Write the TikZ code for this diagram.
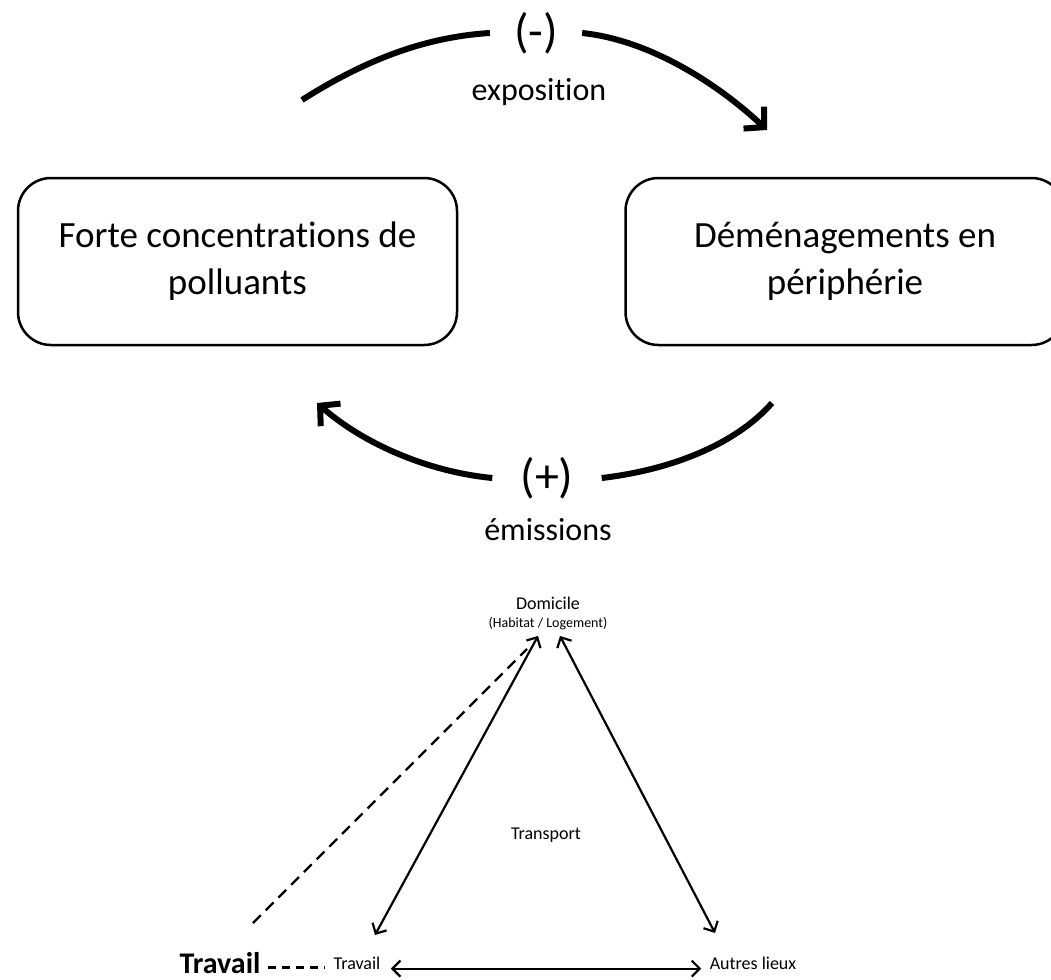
\documentclass[tikz,border=0pt]{standalone}
\usepackage{fontspec}
\setmainfont{Carlito}[Ligatures=NoCommon]
\usetikzlibrary{arrows.meta}

\begin{document}
\begin{tikzpicture}[x=1pt,y=-1pt,
  box node/.style={draw,line width=2.5pt,rounded corners=33pt,minimum width=439pt,
    minimum height=167pt,align=center,font=\fontsize{37}{47}\selectfont},
  sign node/.style={inner xsep=24pt,font=\fontsize{48}{48}\selectfont},
  word node/.style={font=\fontsize{32}{32}\selectfont},
  place node/.style={font=\fontsize{18}{18}\selectfont},
  sub node/.style={font=\fontsize{14}{14}\selectfont},
  work node/.style={font=\fontsize{30}{30}\selectfont\bfseries},
  loop line/.style={line width=6pt},
  loop arrow/.style={line width=6pt,-{Straight Barb[length=14pt,width=30pt]}},
  trip/.style={line width=2.2pt,{Straight Barb[length=8pt,width=16pt]}-{Straight Barb[length=8pt,width=16pt]}},
  link/.style={line width=2.4pt,dash pattern=on 11pt off 7pt}]
  \useasboundingbox[fill=white] (0,0) rectangle (1051,979);

  \node[box node] (pollution) at (237.5,261.5) {Forte concentrations de\\polluants};
  \node[box node] (demenagement) at (845,261.5) {Déménagements en\\périphérie};

  \node[sign node] (moins) at (536,33) {(-)};
  \node[word node] (exposition) at (539,92) {exposition};
  \node[sign node,inner xsep=28pt] (plus) at (547,478) {(+)};
  \node[word node] (emissions) at (548,530) {émissions};

  \coordinate (expo start) at (302,100);
  \coordinate (expo end) at (767,130);
  \coordinate (emis start) at (772,403);
  \coordinate (emis end) at (317,403);
  \draw[loop line] (expo start) .. controls (365,60) and (425,37) .. (moins.west);
  \draw[loop arrow] (moins.east) .. controls (650,40) and (718,84) .. (expo end);
  \draw[loop line] (emis start) .. controls (735,445) and (670,470) .. (plus.east);
  \draw[loop arrow] (plus.west) .. controls (430,472) and (365,445) .. (emis end);

  \node[place node,anchor=base] (domicile) at (548,609) {Domicile};
  \node[sub node,anchor=base] (habitat) at (548,627) {(Habitat / Logement)};
  \node[place node,anchor=base] (transport) at (546,839) {Transport};
  \node[place node,anchor=base] (travail) at (357,969) {Travail};
  \node[place node,anchor=base] (autres) at (753,969) {Autres lieux};
  \node[work node,anchor=base] (travail bold) at (220,973) {Travail};

  \draw[trip] ([xshift=-10pt,yshift=-3pt]habitat.south) -- ([xshift=18pt,yshift=18pt]travail.north);
  \draw[trip] ([xshift=12pt,yshift=-3pt]habitat.south) -- ([xshift=-38pt,yshift=20pt]autres.north);
  \draw[trip] ([xshift=7pt,yshift=-2pt]travail.mid east) -- ([xshift=-5pt,yshift=-2pt]autres.mid west);

  \coordinate (lien travail) at (253,923);
  \draw[link] (lien travail) -- ([xshift=-21pt,yshift=-16pt]habitat.south);
  \draw[link,dash pattern=on 8pt off 6pt,shorten <=4pt,shorten >=5pt] ([yshift=3pt]travail bold.mid east) -- ([yshift=3pt]travail bold.mid east -| travail.west);
\end{tikzpicture}
\end{document}
